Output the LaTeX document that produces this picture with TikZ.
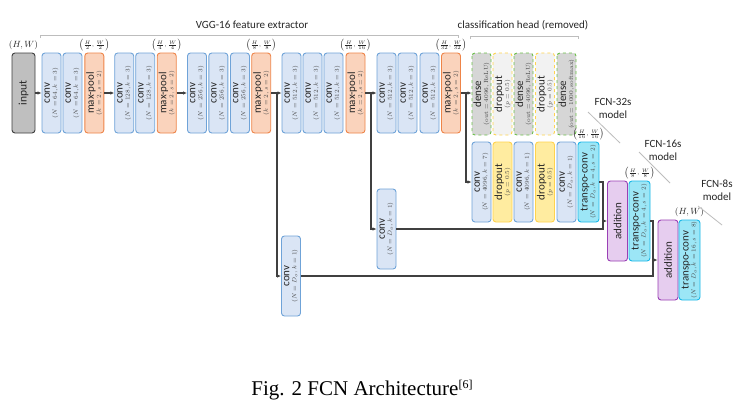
\documentclass[tikz,border=0pt]{standalone}
\usepackage[no-math]{fontspec}
\setmainfont{Carlito}
\newfontfamily\capfont{Liberation Serif}
\usetikzlibrary{arrows.meta}
\definecolor{convfill}{HTML}{DAE5F5}
\definecolor{convdraw}{HTML}{6FA3D8}
\definecolor{poolfill}{HTML}{FAD3BC}
\definecolor{pooldraw}{HTML}{EE8448}
\definecolor{inpfill}{HTML}{BFBFBF}
\definecolor{inpdraw}{HTML}{3F3F3F}
\definecolor{densefill}{HTML}{D6D6D6}
\definecolor{densedraw}{HTML}{6CC04A}
\definecolor{dropfill}{HTML}{F2F2F2}
\definecolor{dropdraw}{HTML}{FFD34D}
\definecolor{ydropfill}{HTML}{FFECA0}
\definecolor{tcfill}{HTML}{9CE6F6}
\definecolor{tcdraw}{HTML}{1AB8E8}
\definecolor{addfill}{HTML}{E6CDEF}
\definecolor{adddraw}{HTML}{9A3FB5}
\definecolor{linec}{HTML}{404040}
\definecolor{brc}{HTML}{BDBDBD}
\definecolor{pgray}{HTML}{454545}
\definecolor{txt}{HTML}{262626}
\newcommand{\bxt}[2]{#1\\[-1.5pt]{\fontsize{6.5}{6.5}\selectfont\color{pgray}#2}}
\newcommand{\hw}[1]{$\left(\frac{H}{#1},\frac{W}{#1}\right)$}
\begin{document}
\begin{tikzpicture}[x=1pt,y=-1pt,
  blk/.style={rotate=90, minimum width=80pt, minimum height=19pt, inner sep=0pt,
    rounded corners=3pt, line width=0.9pt, align=center,
    font=\fontsize{11}{8.5}\selectfont, text=txt},
  convb/.style={blk, draw=convdraw, fill=convfill},
  poolb/.style={blk, draw=pooldraw, fill=poolfill},
  inpb/.style={blk, draw=inpdraw, fill=inpfill, minimum height=23pt, font=\fontsize{11.5}{11.5}\selectfont},
  denseb/.style={blk, draw=densedraw, fill=densefill, dashed, minimum width=82pt},
  dropb/.style={blk, draw=dropdraw, fill=dropfill, dashed, minimum width=82pt},
  ydropb/.style={blk, draw=dropdraw, fill=ydropfill},
  tcb/.style={blk, draw=tcdraw, fill=tcfill, minimum height=21pt},
  addb/.style={blk, draw=adddraw, fill=addfill, minimum height=20pt},
  arr/.style={-{Latex[length=4pt,width=3.5pt]}, line width=1.1pt, draw=linec},
  ln/.style={line width=1.1pt, draw=linec},
  brk/.style={draw=brc, line width=0.8pt},
  dim/.style={font=\fontsize{6.5}{6.5}\selectfont, text=txt, inner sep=0pt},
  head/.style={font=\fontsize{11}{13}\selectfont, text=txt, inner sep=0pt, align=center}]
\useasboundingbox[fill=white] (0,0) rectangle (739,418);

% headings and brackets
\node[head] (hvgg) at (252,25) {VGG-16 feature extractor};
\node[head] (hcls) at (523,25) {classification head (removed)};
\draw[brk] (40,38) -- (40,35) -- (458,35) -- (458,38);
\draw[brk] (470,39) -- (470,36) -- (578,36) -- (578,39);

% top row
\node[inpb] (in) at (23.5,93) {input};
\node[convb] (c1a) at (51.5,93) {\bxt{conv}{$(N=64,k=3)$}};
\node[convb] (c1b) at (72.5,93) {\bxt{conv}{$(N=64,k=3)$}};
\node[poolb] (p1) at (94.3,93) {\bxt{max-pool}{$(k=2,s=2)$}};
\node[convb] (c2a) at (124.2,93) {\bxt{conv}{$(N=128,k=3)$}};
\node[convb] (c2b) at (145.2,93) {\bxt{conv}{$(N=128,k=3)$}};
\node[poolb] (p2) at (166.7,93) {\bxt{max-pool}{$(k=2,s=2)$}};
\node[convb] (c3a) at (197,93) {\bxt{conv}{$(N=256,k=3)$}};
\node[convb] (c3b) at (218.3,93) {\bxt{conv}{$(N=256,k=3)$}};
\node[convb] (c3c) at (240,93) {\bxt{conv}{$(N=256,k=3)$}};
\node[poolb] (p3) at (261.2,93) {\bxt{max-pool}{$(k=2,s=2)$}};
\node[convb] (c4a) at (291.5,93) {\bxt{conv}{$(N=512,k=3)$}};
\node[convb] (c4b) at (312.5,93) {\bxt{conv}{$(N=512,k=3)$}};
\node[convb] (c4c) at (333.5,93) {\bxt{conv}{$(N=512,k=3)$}};
\node[poolb] (p4) at (355.5,93) {\bxt{max-pool}{$(k=2,s=2)$}};
\node[convb] (c5a) at (386.5,93) {\bxt{conv}{$(N=512,k=3)$}};
\node[convb] (c5b) at (407.5,93) {\bxt{conv}{$(N=512,k=3)$}};
\node[convb] (c5c) at (429.5,93) {\bxt{conv}{$(N=512,k=3)$}};
\node[poolb] (p5) at (451,93) {\bxt{max-pool}{$(k=2,s=2)$}};

% classification head
\node[denseb] (d1) at (481.5,94) {\bxt{dense}{$(\mathrm{out}=4096,\mathrm{ReLU})$}};
\node[dropb] (r1) at (502.5,94) {\bxt{dropout}{$(p=0.5)$}};
\node[denseb] (d2) at (523.5,94) {\bxt{dense}{$(\mathrm{out}=4096,\mathrm{ReLU})$}};
\node[dropb] (r2) at (545,94) {\bxt{dropout}{$(p=0.5)$}};
\node[denseb] (d3) at (566.5,94) {\bxt{dense}{$(\mathrm{out}=1000,\mathrm{softmax})$}};

% FCN-32s row
\node[convb] (l1) at (481.5,182) {\bxt{conv}{$(N=4096,k=7)$}};
\node[ydropb] (l2) at (502.5,182) {\bxt{dropout}{$(p=0.5)$}};
\node[convb] (l3) at (523.5,182) {\bxt{conv}{$(N=4096,k=1)$}};
\node[ydropb] (l4) at (545,182) {\bxt{dropout}{$(p=0.5)$}};
\node[convb] (l5) at (566.5,182) {\bxt{conv}{$(N=D_o,k=1)$}};
\node[tcb] (tc1) at (588.5,182) {\bxt{transpo-conv}{$(N=D_o,k=4,s=2)$}};

% skip convs
\node[convb] (sk2) at (386.5,229) {\bxt{conv}{$(N=D_o,k=1)$}};
\node[convb] (sk1) at (291,276) {\bxt{conv}{$(N=D_o,k=1)$}};

% FCN-16s / 8s
\node[addb] (a1) at (617.5,221) {addition};
\node[tcb] (tc2) at (639.5,221) {\bxt{transpo-conv}{$(N=D_o,k=4,s=2)$}};
\node[addb] (a2) at (668,260) {addition};
\node[tcb] (tc3) at (689.5,260) {\bxt{transpo-conv}{$(N=D_o,k=16,s=8)$}};

% size labels
\node[dim, font=\fontsize{9}{9}\selectfont] (s0) at (23.5,45) {$(H,W)$};
\node[dim] (s1) at (94.3,45) {\hw{2}};
\node[dim] (s2) at (166.7,45) {\hw{4}};
\node[dim] (s3) at (261.2,45) {\hw{8}};
\node[dim] (s4) at (355.5,45) {\hw{16}};
\node[dim] (s5) at (451,45) {\hw{32}};
\node[dim] (s6) at (588.5,134) {\hw{16}};
\node[dim] (s7) at (639.5,173) {\hw{8}};
\node[dim, font=\fontsize{9}{9}\selectfont] (s8) at (689.5,212) {$(H,W)$};

% model labels
\node[head] (m32) at (613,108) {FCN-32s\\model};
\node[head] (m16) at (663,150) {FCN-16s\\model};
\node[head] (m8) at (717,190) {FCN-8s\\model};
\draw[brk] (588,112) -- (620,143);
\draw[brk] (639,152) -- (670,183);
\draw[brk] (698,206) -- (722,225);

% connectors
\coordinate (b1) at (277,93);
\coordinate (b2) at (371,93);
\coordinate (b3) at (466,93);
\coordinate (j1) at (603,221);
\coordinate (j2) at (653,260);
\draw[arr] (in.south) -- (c1a.north);
\draw[arr] (p1.south) -- (c2a.north);
\draw[arr] (p2.south) -- (c3a.north);
\draw[arr] (p3.south) -- (c4a.north);
\draw[arr] (p4.south) -- (c5a.north);
\draw[arr] (p5.south) -- (d1.north |- p5.south);
\draw[arr] (b1) |- (sk1.north);
\draw[arr] (b2) |- (sk2.north);
\draw[arr] (b3) |- (l1.north);
\draw[ln] (sk2.south) -| (j1);
\draw[arr] (tc1.south) -| (j1) -- (a1.north);
\draw[ln] (sk1.south) -| (j2);
\draw[arr] (tc2.south) -| (j2) -- (a2.north);

% caption
\node[font=\capfont\fontsize{21}{21}\selectfont, inner sep=0pt] (cap) at (362,390) {Fig. 2 FCN Architecture\raisebox{0.75ex}{\fontsize{12}{12}\selectfont [6]}};
\end{tikzpicture}
\end{document}
